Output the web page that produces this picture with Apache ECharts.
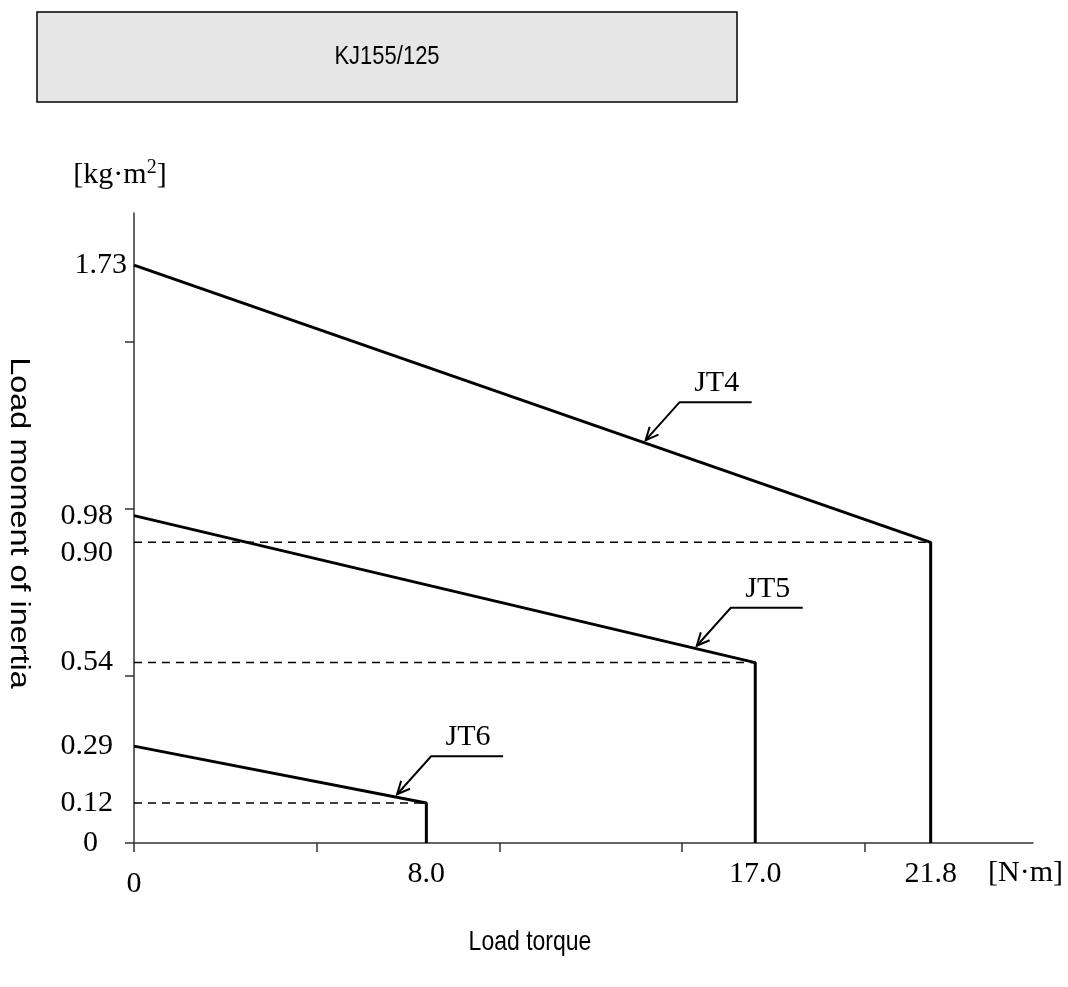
<!DOCTYPE html>
<html>
<head>
<meta charset="utf-8">
<script src="https://cdn.jsdelivr.net/npm/echarts@6/dist/echarts.min.js"></script>
<style>
  html, body { margin: 0; padding: 0; background: #fff; }
  #chart { width: 1068px; height: 987px; }
</style>
</head>
<body>
<div id="chart"></div>
<script>
// 曲线数据
const curveNames = ['JT4', 'JT5', 'JT6'];
const inertiaAtZero = [1.73, 0.98, 0.29];
const ratedTorque = [21.8, 17.0, 8.0];
const inertiaAtRated = [0.90, 0.54, 0.12];
// 标注箭头指向的转矩位置
const calloutTorque = [14.0, 15.4, 7.2];

// 刻度标签
const xLabelValues = [0, 8.0, 17.0, 21.8];
const yLabelValues = [0, 0.12, 0.29, 0.54, 0.90, 0.98, 1.73];
const xTickValues = [0, 5, 10, 15, 20];
const yTickValues = [0, 0.5, 1.0, 1.5];

const serif = '"Liberation Serif", "Times New Roman", serif';
const sans = '"Liberation Sans", Arial, sans-serif';
const axisColor = '#333';

const chart = echarts.init(document.getElementById('chart'), null, { renderer: 'canvas' });

const series = [];
curveNames.forEach((name, i) => {
  series.push({
    name: name,
    type: 'line',
    symbol: 'none',
    silent: true,
    lineStyle: { color: '#000', width: 3 },
    data: [[0, inertiaAtZero[i]], [ratedTorque[i], inertiaAtRated[i]], [ratedTorque[i], 0]]
  });
  // 虚线
  series.push({
    type: 'line',
    symbol: 'none',
    silent: true,
    lineStyle: { color: '#000', width: 1.5, type: [8, 6] },
    data: [[0, inertiaAtRated[i]], [ratedTorque[i], inertiaAtRated[i]]]
  });
});

// 标注: 箭头 + 折线 + 文字
const calloutData = curveNames.map((name, i) => {
  const t = calloutTorque[i];
  const y = inertiaAtZero[i] + (inertiaAtRated[i] - inertiaAtZero[i]) * t / ratedTorque[i];
  return [t, y, i];
});

series.push({
  type: 'custom',
  silent: true,
  clip: false,
  data: calloutData,
  encode: { x: 0, y: 1 },
  renderItem: function (params, api) {
    const p = api.coord([api.value(0), api.value(1)]);
    const tip = [p[0], p[1] - 3];
    const elbow = [tip[0] + 34, tip[1] - 38];
    const end = [elbow[0] + 72, elbow[1]];
    let dx = elbow[0] - tip[0], dy = elbow[1] - tip[1];
    const len = Math.sqrt(dx * dx + dy * dy);
    dx /= len; dy /= len;
    const a = 25 * Math.PI / 180, L = 14;
    const w1 = [tip[0] + L * (dx * Math.cos(a) - dy * Math.sin(a)), tip[1] + L * (dx * Math.sin(a) + dy * Math.cos(a))];
    const w2 = [tip[0] + L * (dx * Math.cos(-a) - dy * Math.sin(-a)), tip[1] + L * (dx * Math.sin(-a) + dy * Math.cos(-a))];
    return {
      type: 'group',
      children: [
        { type: 'polyline', shape: { points: [tip, elbow, end] }, style: { stroke: '#000', lineWidth: 2, fill: 'none' } },
        { type: 'polyline', shape: { points: [w1, tip, w2] }, style: { stroke: '#000', lineWidth: 2, fill: 'none' } },
        {
          type: 'text',
          style: {
            text: curveNames[api.value(2)],
            x: (elbow[0] + end[0]) / 2 + 1,
            y: elbow[1] - 4,
            align: 'center', verticalAlign: 'bottom',
            textAlign: 'center', textVerticalAlign: 'bottom',
            font: '30px ' + serif,
            fill: '#000'
          }
        }
      ]
    };
  }
});

const option = {
  animation: false,
  backgroundColor: '#fff',
  grid: { left: 134, top: 213, right: 35, bottom: 144, containLabel: false },
  xAxis: {
    type: 'value',
    min: 0,
    max: 24.6,
    splitLine: { show: false },
    axisLine: { show: true, onZero: false, lineStyle: { color: axisColor, width: 1.5 } },
    axisTick: { show: true, length: 9, customValues: xTickValues, lineStyle: { color: axisColor, width: 1.5 } },
    axisLabel: {
      customValues: xLabelValues,
      margin: 16,
      color: '#000',
      fontFamily: serif,
      fontSize: 30,
      formatter: v => v === 0 ? '{z|0}' : '{a|' + v.toFixed(1) + '}',
      rich: {
        a: { fontFamily: serif, fontSize: 30, color: '#000' },
        z: { fontFamily: serif, fontSize: 30, color: '#000', padding: [10, 0, 0, 0] }
      }
    }
  },
  yAxis: {
    type: 'value',
    min: 0,
    max: 1.886,
    splitLine: { show: false },
    axisLine: { show: true, onZero: false, lineStyle: { color: axisColor, width: 1.5 } },
    axisTick: { show: true, length: 9, customValues: yTickValues, lineStyle: { color: axisColor, width: 1.5 } },
    axisLabel: {
      customValues: yLabelValues,
      margin: 7,
      color: '#000',
      fontFamily: serif,
      fontSize: 30,
      formatter: function (v) {
        if (v === 0) return '{z|0}';
        if (v === 1.73) return '{t|1.73}';
        if (v === 0.9) return '{n|0.90}';
        return '{a|' + v.toFixed(2) + '}';
      },
      rich: {
        t: { fontFamily: serif, fontSize: 30, color: '#000' },
        a: { fontFamily: serif, fontSize: 30, color: '#000', padding: [0, 14, 0, 0] },
        n: { fontFamily: serif, fontSize: 30, color: '#000', padding: [22, 14, 0, 0] },
        z: { fontFamily: serif, fontSize: 30, color: '#000', padding: [0, 29, 0, 0] }
      }
    }
  },
  graphic: [
    {
      type: 'rect',
      shape: { x: 37, y: 12, width: 700, height: 90 },
      style: { fill: '#e6e6e6', stroke: '#000', lineWidth: 1.5 }
    },
    {
      type: 'text', x: 387, y: 57, scaleY: 1.2,
      style: { text: 'KJ155/125', align: 'center', verticalAlign: 'middle', textAlign: 'center', textVerticalAlign: 'middle', font: '22px ' + sans, fill: '#000' }
    },
    {
      type: 'text', x: 120, y: 175,
      style: {
        text: '{b|[kg·m}{s|2}{b|]}',
        align: 'center', verticalAlign: 'middle', textAlign: 'center', textVerticalAlign: 'middle',
        rich: {
          b: { fontFamily: serif, fontSize: 30, color: '#000', lineHeight: 34 },
          s: { fontFamily: serif, fontSize: 20, color: '#000', verticalAlign: 'top', lineHeight: 20 }
        }
      }
    },
    {
      type: 'text', x: 988, y: 873,
      style: { text: '[N·m]', align: 'left', verticalAlign: 'middle', textAlign: 'left', textVerticalAlign: 'middle', font: '30px ' + serif, fill: '#000' }
    },
    {
      type: 'text', x: 530, y: 942, scaleY: 1.2,
      style: { text: 'Load torque', align: 'center', verticalAlign: 'middle', textAlign: 'center', textVerticalAlign: 'middle', font: '23px ' + sans, fill: '#000' }
    },
    {
      type: 'text', x: 18, y: 523, rotation: -Math.PI / 2, scaleX: 1.2,
      style: { text: 'Load moment of inertia', align: 'center', verticalAlign: 'middle', textAlign: 'center', textVerticalAlign: 'middle', font: '27px ' + sans, fill: '#000' }
    }
  ],
  series: series
};

chart.setOption(option);
</script>
</body>
</html>
